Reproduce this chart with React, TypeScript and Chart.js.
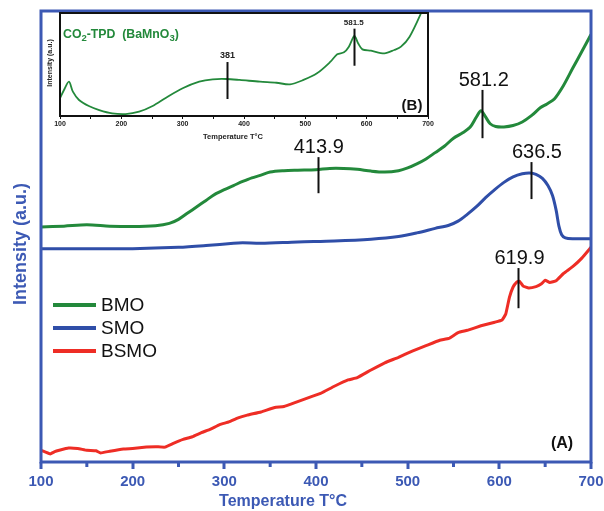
import React, { useEffect, useRef } from 'react';
import { Chart, registerables } from 'chart.js';

Chart.register(...registerables);

// ---------- main chart data (A) ----------
const bmoT = [100, 125, 150, 175, 200, 225, 240, 250, 260, 270, 280, 290, 300, 310, 320, 330, 340, 350, 365, 380, 400, 415, 430, 445, 460, 475, 490, 500, 510, 520, 530, 540, 550, 560, 568, 575, 580, 585, 590, 596, 605, 615, 625, 635, 645, 652, 660, 670, 680, 690, 700];
const bmoI = [52.1, 52.3, 52.6, 52.3, 52.2, 52.4, 52.9, 53.8, 55.2, 56.6, 58.0, 59.4, 60.4, 61.3, 62.2, 63.0, 63.6, 64.3, 64.6, 64.7, 64.8, 65.1, 65.1, 64.9, 64.5, 64.3, 64.6, 65.2, 66.1, 67.2, 68.6, 70.0, 71.8, 73.0, 74.2, 76.5, 77.9, 76.5, 75.0, 74.4, 74.3, 74.6, 75.4, 76.8, 78.6, 79.4, 80.5, 83.5, 87.3, 91.0, 94.8];

const smoT = [100, 150, 200, 250, 280, 310, 320, 340, 380, 420, 460, 490, 510, 530, 545, 555, 565, 575, 585, 595, 605, 615, 625, 633, 640, 647, 653, 658, 662, 665, 668, 672, 680, 700];
const smoI = [47.3, 47.3, 47.3, 47.6, 48.0, 48.5, 48.6, 48.5, 48.8, 49.0, 49.4, 50.0, 50.8, 51.8, 52.5, 53.4, 54.9, 56.6, 58.6, 60.4, 62.0, 63.2, 63.9, 64.1, 63.8, 62.9, 61.3, 59.1, 55.8, 52.3, 50.4, 49.7, 49.5, 49.5];

const bsmoT = [100, 105, 110, 115, 120, 130, 140, 150, 160, 165, 175, 190, 200, 215, 225, 235, 245, 255, 265, 275, 285, 295, 305, 315, 325, 340, 355, 365, 380, 395, 405, 420, 435, 445, 460, 475, 490, 505, 520, 535, 545, 555, 565, 580, 595, 603, 607, 611, 615, 619, 622, 626, 632, 640, 646, 650, 655, 662, 670, 680, 690, 700];
const bsmoI = [2.6, 2.2, 1.8, 2.3, 2.6, 3.1, 3.0, 2.6, 2.5, 2.0, 2.4, 2.9, 3.0, 3.3, 3.4, 3.3, 4.2, 5.0, 5.6, 6.5, 7.3, 8.3, 8.9, 9.8, 10.4, 11.1, 12.1, 12.3, 13.4, 14.5, 15.2, 16.8, 18.2, 18.7, 20.4, 22.0, 23.2, 24.6, 25.8, 27.0, 27.4, 28.7, 29.2, 30.2, 31.0, 31.5, 32.8, 36.5, 38.8, 39.9, 40.1, 39.0, 38.6, 38.9, 39.5, 40.3, 39.8, 40.2, 41.8, 43.3, 45.2, 47.6];

const seriesNames = ['BMO', 'SMO', 'BSMO'];
const xTickMin = 100;
const xTickMax = 700;

// peak markers on main chart: temperature of line, intensity range, label
const markerT = [402, 581, 634, 620];
const markerTop = [67.6, 82.5, 66.5, 43.0];
const markerBottom = [59.6, 71.8, 58.3, 34.1];
const markerLabelT = [403, 583, 641, 622];
const markerLabels = ['413.9', '581.2', '636.5', '619.9'];

// ---------- inset data (B) ----------
const insetT = [100, 106.5, 114.6, 121, 131, 147, 164, 185, 207, 229, 251, 273, 300, 327, 349, 371, 393, 426, 453, 475, 497, 519, 541, 552, 563, 571, 580, 586, 593, 607, 629, 645, 656, 670, 689, 695];
const insetI = [17.2, 25.2, 33.3, 23.6, 15.5, 9.7, 5.8, 2.6, 1.9, 4.2, 9.7, 17.8, 26.9, 33.3, 35.6, 35.9, 35.0, 33.3, 32.3, 30.7, 35.0, 41.4, 52.7, 59.9, 61.8, 67.3, 77.7, 70.6, 64.7, 63.4, 60.8, 64.1, 67.3, 77.0, 100.3, 110];
const insetMarkerT = [372, 579];
const insetMarkerTop = [52.4, 84.8];
const insetMarkerBottom = [16.5, 48.8];
const insetMarkerLabelT = [373, 579];
const insetMarkerLabels = ['381', '581.5'];

const GREEN = '#23893b';
const BLUE_LINE = '#2f4ea8';
const RED = '#ee2d25';
const AXIS_BLUE = '#3c59b4';
const FONT = '"Liberation Sans", Arial, Helvetica, sans-serif';

const pts = (t: number[], v: number[]) => t.map((x, i) => ({ x, y: v[i] }));
const isMajor = (v: number) => v % 100 === 0;

const mainDecor = {
  id: 'mainDecor',
  afterDatasetsDraw(chart: any) {
    const { ctx, chartArea: a, scales } = chart;
    const x = scales.x;
    const y = scales.y;
    ctx.save();
    // frame
    ctx.strokeStyle = AXIS_BLUE;
    ctx.lineWidth = 3;
    ctx.strokeRect(a.left, a.top, a.right - a.left, a.bottom - a.top);
    // minor ticks (every 50 between majors)
    ctx.lineWidth = 3;
    x.ticks.forEach((t: any) => {
      if (!isMajor(t.value)) {
        const px = x.getPixelForValue(t.value);
        ctx.beginPath();
        ctx.moveTo(px, a.bottom + 1);
        ctx.lineTo(px, a.bottom + 5);
        ctx.stroke();
      }
    });
    // markers
    markerT.forEach((t, i) => {
      const px = Math.round(x.getPixelForValue(t)) + 0.5;
      const y1 = y.getPixelForValue(markerTop[i]);
      const y2 = y.getPixelForValue(markerBottom[i]);
      ctx.strokeStyle = '#111';
      ctx.lineWidth = 2;
      ctx.beginPath();
      ctx.moveTo(px, y1);
      ctx.lineTo(px, y2);
      ctx.stroke();
      ctx.fillStyle = '#111';
      ctx.font = `20px ${FONT}`;
      ctx.textAlign = 'center';
      ctx.textBaseline = 'alphabetic';
      ctx.fillText(markerLabels[i], x.getPixelForValue(markerLabelT[i]), y1 - 4);
    });
    // legend
    const ds = chart.data.datasets;
    const legendY = [305, 328, 351];
    ds.forEach((d: any, i: number) => {
      ctx.strokeStyle = d.borderColor;
      ctx.lineWidth = 4;
      ctx.beginPath();
      ctx.moveTo(53, legendY[i]);
      ctx.lineTo(96, legendY[i]);
      ctx.stroke();
      ctx.fillStyle = '#111';
      ctx.font = `19px ${FONT}`;
      ctx.textAlign = 'left';
      ctx.textBaseline = 'middle';
      ctx.fillText(d.label, 101, legendY[i] + 1);
    });
    // panel label
    ctx.fillStyle = '#111';
    ctx.font = `bold 16px ${FONT}`;
    ctx.textAlign = 'center';
    ctx.textBaseline = 'alphabetic';
    ctx.fillText('(A)', 562, 448);
    // axis titles
    ctx.fillStyle = AXIS_BLUE;
    ctx.font = `bold 16px ${FONT}`;
    ctx.textAlign = 'center';
    ctx.textBaseline = 'middle';
    ctx.fillText('Temperature T°C', 283, 502);
    ctx.save();
    ctx.translate(21, 244);
    ctx.rotate(-Math.PI / 2);
    ctx.font = `bold 18px ${FONT}`;
    ctx.fillText('Intensity (a.u.)', 0, 0);
    ctx.restore();
    ctx.restore();
  },
};

const insetDecor = {
  id: 'insetDecor',
  afterDatasetsDraw(chart: any) {
    const { ctx, chartArea: a, scales } = chart;
    const x = scales.x;
    const y = scales.y;
    ctx.save();
    ctx.strokeStyle = '#111';
    ctx.lineWidth = 2;
    ctx.strokeRect(a.left, a.top, a.right - a.left, a.bottom - a.top);
    insetMarkerT.forEach((t, i) => {
      const px = Math.round(x.getPixelForValue(t)) + 0.5;
      const y1 = y.getPixelForValue(insetMarkerTop[i]);
      const y2 = y.getPixelForValue(insetMarkerBottom[i]);
      ctx.strokeStyle = '#111';
      ctx.lineWidth = 2;
      ctx.beginPath();
      ctx.moveTo(px, y1);
      ctx.lineTo(px, y2);
      ctx.stroke();
      ctx.fillStyle = '#222';
      ctx.font = `bold ${i === 0 ? 9 : 8}px ${FONT}`;
      ctx.textAlign = 'center';
      ctx.textBaseline = 'alphabetic';
      ctx.fillText(insetMarkerLabels[i], x.getPixelForValue(insetMarkerLabelT[i]), y1 - 4);
    });
    // title with subscripts
    ctx.fillStyle = GREEN;
    ctx.textAlign = 'left';
    ctx.textBaseline = 'alphabetic';
    let cx = 23;
    const base = 37.5;
    const parts: [string, boolean][] = [['CO', false], ['2', true], ['-TPD  (BaMnO', false], ['3', true], [')', false]];
    parts.forEach(([s, sub]) => {
      ctx.font = sub ? `bold 9.5px ${FONT}` : `bold 12.3px ${FONT}`;
      ctx.fillText(s, cx, sub ? base + 3 : base);
      cx += ctx.measureText(s).width;
    });
    // (B)
    ctx.fillStyle = '#111';
    ctx.font = `bold 15px ${FONT}`;
    ctx.textAlign = 'center';
    ctx.fillText('(B)', 372, 110);
    // axis titles
    ctx.fillStyle = '#222';
    ctx.font = `bold 7.5px ${FONT}`;
    ctx.textBaseline = 'middle';
    ctx.fillText('Temperature T°C', 193, 137);
    ctx.save();
    ctx.translate(10, 63);
    ctx.rotate(-Math.PI / 2);
    ctx.font = `bold 7px ${FONT}`;
    ctx.fillText('Intensity (a.u.)', 0, 0);
    ctx.restore();
    ctx.restore();
  },
};

export default function App() {
  const mainRef = useRef<HTMLCanvasElement>(null);
  const insetRef = useRef<HTMLCanvasElement>(null);

  useEffect(() => {
    const main = new Chart(mainRef.current as HTMLCanvasElement, {
      type: 'line',
      data: {
        datasets: [
          { label: seriesNames[0], data: pts(bmoT, bmoI), borderColor: GREEN, borderWidth: 3, pointRadius: 0, tension: 0.3, fill: false },
          { label: seriesNames[1], data: pts(smoT, smoI), borderColor: BLUE_LINE, borderWidth: 3, pointRadius: 0, tension: 0.3, fill: false },
          { label: seriesNames[2], data: pts(bsmoT, bsmoI), borderColor: RED, borderWidth: 3, pointRadius: 0, tension: 0.1, fill: false },
        ],
      },
      options: {
        animation: false,
        responsive: true,
        maintainAspectRatio: false,
        devicePixelRatio: 1,
        layout: { padding: { top: 11, right: 13, left: 0, bottom: 0 } },
        plugins: { legend: { display: false }, tooltip: { enabled: false } },
        scales: {
          x: {
            type: 'linear',
            min: xTickMin,
            max: xTickMax,
            ticks: {
              stepSize: 50,
              autoSkip: false,
              maxRotation: 0,
              padding: 4,
              color: AXIS_BLUE,
              font: { family: FONT, size: 15, weight: 'bold' },
              callback: (v: any) => (isMajor(Number(v)) ? String(v) : ''),
            },
            grid: {
              display: true,
              drawOnChartArea: false,
              drawTicks: true,
              tickLength: 7,
              tickWidth: 3,
              tickColor: (c: any) => (c.tick && isMajor(c.tick.value) ? AXIS_BLUE : 'rgba(0,0,0,0)'),
              color: AXIS_BLUE,
              lineWidth: 2,
            },
            border: { display: false },
            afterFit: (s: any) => { s.height = 49; s.paddingLeft = 0; s.paddingRight = 0; },
          },
          y: {
            min: 0,
            max: 100,
            ticks: { display: false },
            grid: { display: false },
            border: { display: false },
            afterFit: (s: any) => { s.width = 41; },
          },
        },
      } as any,
      plugins: [mainDecor],
    });

    const inset = new Chart(insetRef.current as HTMLCanvasElement, {
      type: 'line',
      data: {
        datasets: [
          { label: 'BaMnO3', data: pts(insetT, insetI), borderColor: GREEN, borderWidth: 1.8, pointRadius: 0, tension: 0.3, fill: false },
        ],
      },
      options: {
        animation: false,
        responsive: true,
        maintainAspectRatio: false,
        devicePixelRatio: 1,
        layout: { padding: { top: 13, right: 12, left: 0, bottom: 0 } },
        plugins: { legend: { display: false }, tooltip: { enabled: false } },
        scales: {
          x: {
            type: 'linear',
            min: xTickMin,
            max: xTickMax,
            ticks: {
              stepSize: 50,
              autoSkip: false,
              maxRotation: 0,
              padding: 1,
              color: '#222',
              font: { family: FONT, size: 7, weight: 'bold' },
              callback: (v: any) => (isMajor(Number(v)) ? String(v) : ''),
            },
            grid: { display: true, drawOnChartArea: false, drawTicks: true, tickLength: 3, color: '#111', lineWidth: 1 },
            border: { display: false },
            afterFit: (s: any) => { s.height = 29; s.paddingLeft = 0; s.paddingRight = 0; },
          },
          y: {
            min: 0,
            max: 100,
            ticks: { display: false },
            grid: { display: false },
            border: { display: false },
            afterFit: (s: any) => { s.width = 20; },
          },
        },
      } as any,
      plugins: [insetDecor],
    });

    return () => {
      main.destroy();
      inset.destroy();
    };
  }, []);

  return (
    <div style={{ position: 'absolute', left: 0, top: 0, width: 604, height: 511, background: '#fff' }}>
      <div style={{ position: 'absolute', left: 0, top: 0, width: 604, height: 511 }}>
        <canvas ref={mainRef} />
      </div>
      <div style={{ position: 'absolute', left: 40, top: 0, width: 400, height: 145 }}>
        <canvas ref={insetRef} />
      </div>
    </div>
  );
}
